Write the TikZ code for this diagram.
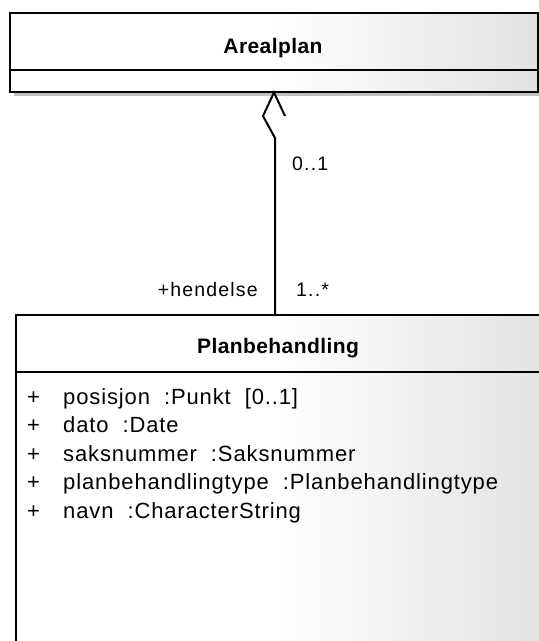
\documentclass[tikz,border=0pt]{standalone}
\usepackage{fontspec}
\setmainfont{Liberation Sans}
\newfontfamily\attrfont[LetterSpace=4]{Liberation Sans}
\newfontfamily\lblfont[LetterSpace=6]{Liberation Sans}
\newfontfamily\ttlfont[LetterSpace=2]{Liberation Sans}
\usetikzlibrary{calc}
\definecolor{boxgray}{RGB}{226,226,226}
\definecolor{shadowgray}{RGB}{192,192,192}
\tikzset{
  classbox/.style={draw=black, line width=2pt, rectangle, inner sep=0pt, anchor=north west,
    left color=white, right color=boxgray, middle color=white},
  sepline/.style={draw=black, line width=2pt},
  connline/.style={draw=black, line width=2pt, line join=miter},
  titletext/.style={font=\ttlfont\bfseries\fontsize{21}{25}\selectfont, anchor=base, inner sep=0pt},
  attrtext/.style={font=\attrfont\fontsize{22}{25}\selectfont, anchor=base west, inner sep=0pt},
  lbltext/.style={font=\lblfont\fontsize{19.5}{22}\selectfont, inner sep=0pt},
}
\begin{document}
\begin{tikzpicture}[x=1pt,y=-1pt]
\useasboundingbox (0,0) rectangle (539,641);
\clip (0,0) rectangle (539,641);
% Arealplan
\fill[shadowgray] (14,17) rectangle (542,96);
\node[classbox, minimum width=528pt, minimum height=79pt] (arealplan) at (9,12) {};
\draw[sepline] (arealplan.west |- 0,70) -- (arealplan.east |- 0,70);
\node[titletext] (arealplantitle) at (273,53) {Arealplan};
% Planbehandling
\fill[shadowgray] (20,319) rectangle (546,665);
\node[classbox, minimum width=526pt, minimum height=346pt] (planbeh) at (15,314) {};
\draw[sepline] (planbeh.west |- 0,372) -- (planbeh.east |- 0,372);
\node[titletext] (planbehtitle) at (278,353) {Planbehandling};
% attributes
\foreach \i/\txt in {0/{posisjon\ \ :Punkt\ \ [0..1]},1/{dato\ \ :Date},2/{saksnummer\ \ :Saksnummer},3/{planbehandlingtype\ \ :Planbehandlingtype},4/{navn\ \ :CharacterString}}{
  \node[attrtext] (vis\i) at (27,404+28.5*\i) {+};
  \node[attrtext] (attr\i) at (63,404+28.5*\i) {\txt};
}
% association
\coordinate (dtop) at (274,92.5);
\coordinate (dleft) at (263,116);
\coordinate (dbot) at (275,138);
\coordinate (dright) at (285,116);
\coordinate (lineend) at (275,314);
\draw[connline] (dright) -- (dtop) -- (dleft) -- (dbot) -- (lineend);
\node[lbltext, anchor=base west] (multtop) at (292,170) {0..1};
\node[lbltext, anchor=base east] (role) at (258,296) {+hendelse};
\node[lbltext, anchor=base west] (multbot) at (296,296) {1..*};
\end{tikzpicture}
\end{document}
